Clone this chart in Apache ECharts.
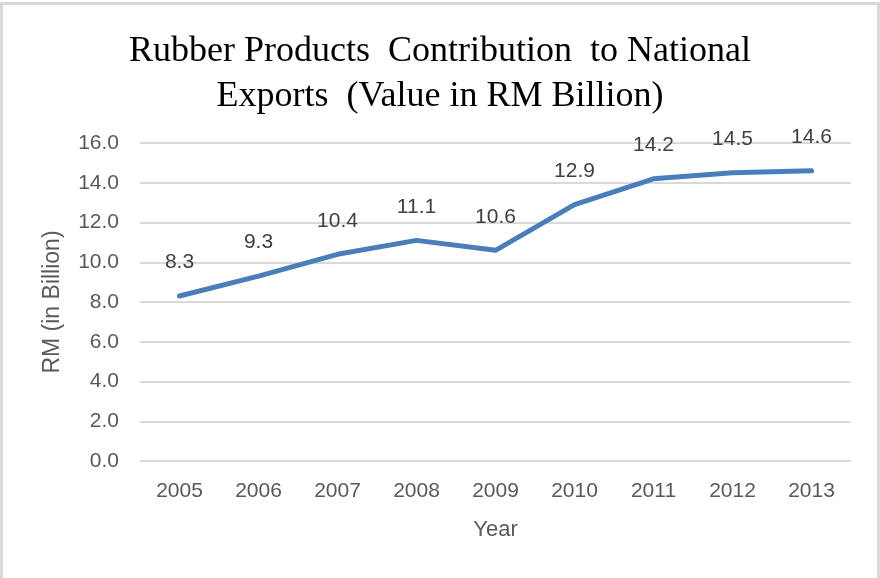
<!DOCTYPE html>
<html>
<head>
<meta charset="utf-8">
<script src="https://cdn.jsdelivr.net/npm/echarts@6/dist/echarts.min.js"></script>
<style>
html,body{margin:0;padding:0;background:#fff;}
#wrap{position:absolute;left:0;top:2px;width:874px;height:573px;border:3px solid #d9d9d9;box-sizing:content-box;}
#chart{position:absolute;left:0;top:0;width:880px;height:578px;}
</style>
</head>
<body>
<div id="wrap"></div>
<div id="chart"></div>
<script>
const years = ['2005','2006','2007','2008','2009','2010','2011','2012','2013'];
const values = [8.3, 9.3, 10.4, 11.1, 10.6, 12.9, 14.2, 14.5, 14.6];
const titleLines = ['Rubber Products  Contribution  to National', 'Exports  (Value in RM Billion)'];

const chart = echarts.init(document.getElementById('chart'));
const txt = '#595959';
chart.setOption({
  backgroundColor: 'transparent',
  animation: false,
  title: {
    text: titleLines.join('\n'),
    left: 'center',
    top: 24,
    textStyle: {fontFamily: 'Liberation Serif', fontSize: 36, fontWeight: 'normal', color: '#000', lineHeight: 45}
  },
  grid: {left: 140, right: 29, top: 143, bottom: 117},
  xAxis: {
    type: 'category',
    data: years,
    boundaryGap: true,
    name: 'Year',
    nameLocation: 'middle',
    nameGap: 58,
    nameTextStyle: {fontFamily: 'Liberation Sans', fontSize: 22, color: txt},
    axisLine: {show: false},
    axisTick: {show: false},
    axisLabel: {fontFamily: 'Liberation Sans', fontSize: 21, color: txt, margin: 20}
  },
  yAxis: {
    type: 'value',
    min: 0, max: 16, interval: 2,
    name: 'RM (in Billion)',
    nameLocation: 'middle',
    nameGap: 76,
    nameTextStyle: {fontFamily: 'Liberation Sans', fontSize: 23, color: txt},
    axisLine: {show: false},
    axisTick: {show: false},
    axisLabel: {fontFamily: 'Liberation Sans', fontSize: 21, color: txt, margin: 21, formatter: v => v.toFixed(1)},
    splitLine: {lineStyle: {color: '#d9d9d9', width: 2}}
  },
  series: [{
    type: 'line',
    data: values,
    symbol: 'circle',
    symbolSize: 4,
    showSymbol: true,
    itemStyle: {color: '#4a7ebb'},
    lineStyle: {color: '#4a7ebb', width: 5, cap: 'round', join: 'round'},
    label: {show: true, position: 'top', distance: 21, fontFamily: 'Liberation Sans', fontSize: 21, color: '#404040', formatter: p => p.value.toFixed(1)}
  }]
});
</script>
</body>
</html>
